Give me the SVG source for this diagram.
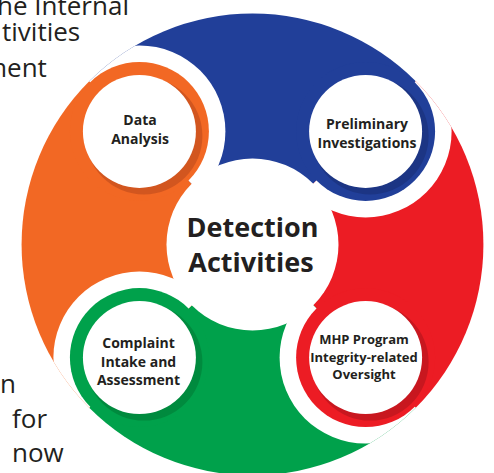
<svg xmlns="http://www.w3.org/2000/svg" width="494" height="473" viewBox="0 0 494 473">
  <style>
    .body { font-family: "Open Sans", "Noto Sans", sans-serif; font-size: 26px; fill: #231f20; }
    .lbl { font-family: "Open Sans", "Noto Sans", sans-serif; font-weight: 700; font-size: 14px; fill: #231f20; text-anchor: middle; }
    .lbl-s { font-size: 13px; }
    .hub { font-family: "Open Sans", "Noto Sans", sans-serif; font-weight: 700; font-size: 27px; fill: #231f20; text-anchor: middle; }
    .halo { fill: #ffffff; }
    .core { fill: #ffffff; }
  </style>
  <defs>
    <!-- quarter sectors of the outer disk, centre (252.5,244.5), r=231 -->
    <path id="secBlue" d="M252.5 244.5 L89.2 81.2 A231 231 0 0 1 415.8 81.2 Z"/>
    <path id="secRed" d="M252.5 244.5 L415.8 81.2 A231 231 0 0 1 415.8 407.8 Z"/>
    <path id="secGreen" d="M252.5 244.5 L415.8 407.8 A231 231 0 0 1 89.2 407.8 Z"/>
    <path id="secOrange" d="M252.5 244.5 L89.2 407.8 A231 231 0 0 1 89.2 81.2 Z"/>
    <clipPath id="clipBlue"><use href="#secBlue"/></clipPath>
    <clipPath id="clipRed"><use href="#secRed"/></clipPath>
    <clipPath id="clipGreen"><use href="#secGreen"/></clipPath>
    <clipPath id="clipOrange"><use href="#secOrange"/></clipPath>
  </defs>

  <rect width="494" height="473" fill="#ffffff"/>

  <!-- page text running beside the graphic -->
  <g id="page-text" class="body">
    <text x="-3" y="15">he Internal</text>
    <text x="2" y="41">tivities</text>
    <text x="-17" y="77">ment</text>
    <text x="0" y="393">n</text>
    <text x="12" y="428">for</text>
    <text x="12" y="462">now</text>
  </g>

  <!-- swirl tails: one quarter of the disk per colour -->
  <g id="tails">
    <use href="#secBlue" fill="#213f99"/>
    <use href="#secRed" fill="#ec1c24"/>
    <use href="#secGreen" fill="#00a14b"/>
    <use href="#secOrange" fill="#f26824"/>
  </g>

  <!-- white gaps: each head's halo cuts into the following tail, plus the hub -->
  <g id="gaps">
    <circle class="halo" cx="139.4" cy="131.4" r="86" clip-path="url(#clipBlue)"/>
    <circle class="halo" cx="365.6" cy="131.4" r="86" clip-path="url(#clipRed)"/>
    <circle class="halo" cx="365.6" cy="357.6" r="86" clip-path="url(#clipGreen)"/>
    <circle class="halo" cx="139.4" cy="357.6" r="86" clip-path="url(#clipOrange)"/>
    <circle class="core" cx="252.5" cy="244.5" r="86"/>
  </g>

  <g id="hub">
    <text class="hub" x="252.5" y="237">Detection</text>
    <text class="hub" x="251" y="272">Activities</text>
  </g>

  <g id="node-data-analysis">
    <circle cx="139.4" cy="131.4" r="69.5" fill="#f26824"/>
    <circle cx="143.9" cy="135.9" r="58.5" fill="#d2561f"/>
    <circle cx="139.4" cy="131.4" r="56.5" fill="#ffffff"/>
    <text class="lbl" x="140" y="125">Data</text>
    <text class="lbl" x="140" y="144">Analysis</text>
  </g>

  <g id="node-preliminary-investigations">
    <circle cx="365.6" cy="131.4" r="69.5" fill="#213f99"/>
    <circle cx="370.1" cy="135.9" r="58.5" fill="#1c3584"/>
    <circle cx="365.6" cy="131.4" r="56.5" fill="#ffffff"/>
    <text class="lbl" x="367" y="129">Preliminary</text>
    <text class="lbl" x="367" y="148">Investigations</text>
  </g>

  <g id="node-mhp-oversight">
    <circle cx="365.6" cy="357.6" r="69.5" fill="#ec1c24"/>
    <circle cx="370.1" cy="362.1" r="58.5" fill="#c8171f"/>
    <circle cx="365.6" cy="357.6" r="56.5" fill="#ffffff"/>
    <text class="lbl lbl-s" x="364" y="344">MHP Program</text>
    <text class="lbl lbl-s" x="364" y="362">Integrity-related</text>
    <text class="lbl lbl-s" x="364" y="379">Oversight</text>
  </g>

  <g id="node-complaint-intake">
    <circle cx="139.4" cy="357.6" r="69.5" fill="#00a14b"/>
    <circle cx="143.9" cy="362.1" r="58.5" fill="#008a3e"/>
    <circle cx="139.4" cy="357.6" r="56.5" fill="#ffffff"/>
    <text class="lbl" x="138.5" y="348">Complaint</text>
    <text class="lbl" x="138.5" y="367">Intake and</text>
    <text class="lbl" x="138.5" y="385">Assessment</text>
  </g>
</svg>
